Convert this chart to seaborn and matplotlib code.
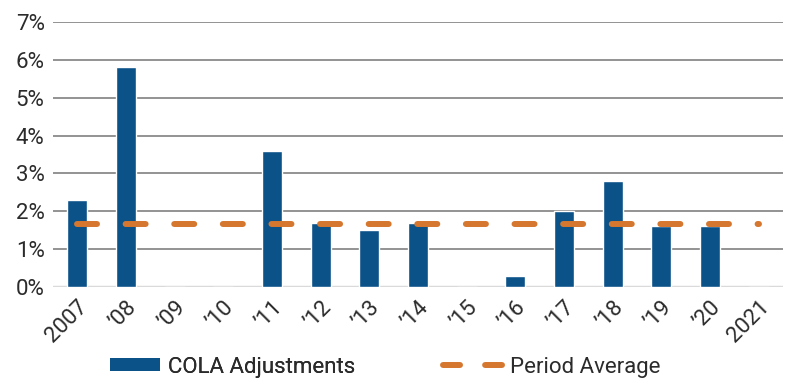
import numpy as np
import pandas as pd
import matplotlib
matplotlib.use('Agg')
import matplotlib.pyplot as plt
import seaborn as sns
from matplotlib.patches import Patch
from matplotlib.lines import Line2D

years = ['2007', '’08', '’09', '’10', '’11', '’12', '’13', '’14',
         '’15', '’16', '’17', '’18', '’19', '’20', '2021']
cola = [2.3, 5.8, 0.0, 0.0, 3.6, 1.7, 1.5, 1.7, 0.0, 0.3, 2.0, 2.8, 1.6, 1.6, 0.0]
y_ticks = [0, 1, 2, 3, 4, 5, 6, 7]

bar_color = '#0b5289'
avg_color = '#d5772f'
text_color = '#2b2b2b'

sns.set_theme(style='white')
plt.rcParams['font.family'] = ['Roboto', 'DejaVu Sans']

df = pd.DataFrame({'year': years, 'cola': cola})
period_avg = np.mean(cola)

fig = plt.figure(figsize=(8, 3.87), dpi=100)
ax = fig.add_axes([53 / 800, 1 - 287 / 387, 730 / 800, 265 / 387])

sns.barplot(data=df, x='year', y='cola', color=bar_color, width=0.41,
            saturation=1, ax=ax, zorder=3)

# gridlines
for t in y_ticks[1:]:
    ax.axhline(t, color='#8a8a8a', lw=1.3, zorder=1)
ax.axhline(0, color='#dadada', lw=2.5, zorder=2)

# period average, one dash per category
x_pos = np.arange(len(years))
ax.plot(x_pos, [period_avg] * len(years), color=avg_color, lw=4.3,
        dashes=(3.35, 4.79), dash_capstyle='round', zorder=4)

ax.set_xlim(-0.5, len(years) - 0.5)
ax.set_ylim(0, 7)
ax.set_yticks(y_ticks)
ax.set_yticklabels([f'{t}%' for t in y_ticks], fontsize=16, color=text_color)
ax.set_xticks(x_pos)
ax.set_xticklabels(years, fontsize=16, color=text_color, rotation=45,
                   ha='right', rotation_mode='anchor')
ax.tick_params(axis='both', length=0)
ax.tick_params(axis='y', pad=6)
ax.tick_params(axis='x', pad=7)
ax.set_xlabel('')
ax.set_ylabel('')
for s in ax.spines.values():
    s.set_visible(False)

leg_kw = dict(loc='center left', frameon=False, fontsize=16,
              handletextpad=0.36, borderaxespad=0, borderpad=0,
              handleheight=0.55)
leg1 = fig.legend(handles=[Patch(facecolor=bar_color, edgecolor='none',
                                 label='COLA Adjustments')],
                  bbox_to_anchor=(110 / 800, 1 - 367 / 387),
                  handlelength=2.25, **leg_kw)
fig.add_artist(leg1)
leg2 = fig.legend(handles=[Line2D([0], [0], color=avg_color, lw=4.3,
                                  dashes=(2.85, 4.2), dash_capstyle='round',
                                  label='Period Average')],
                  bbox_to_anchor=(443 / 800, 1 - 367 / 387),
                  handlelength=2.66, **leg_kw)
for leg in (leg1, leg2):
    for t in leg.get_texts():
        t.set_color(text_color)

fig.savefig('out.png', dpi=100)
